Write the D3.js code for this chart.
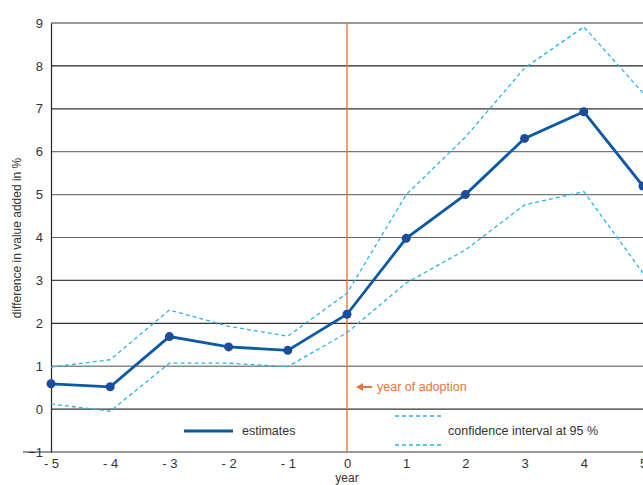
<!DOCTYPE html>
<html><head><meta charset="utf-8">
<script src="https://cdn.jsdelivr.net/npm/d3@7"></script>
<style>body{margin:0;background:#fff}svg{display:block}</style>
</head><body>
<script>
const years = [-5,-4,-3,-2,-1,0,1,2,3,4,5];
const estimates = [0.59,0.52,1.69,1.45,1.37,2.21,3.98,5.0,6.31,6.93,5.2];
const upperCI = [0.98,1.15,2.31,1.93,1.70,2.70,5.0,6.34,7.95,8.91,7.37];
const lowerCI = [0.12,-0.05,1.07,1.07,0.99,1.78,2.94,3.71,4.76,5.07,3.17];
const yTicks = [-1,0,1,2,3,4,5,6,7,8,9];
const gridColors = {0:"#333",1:"#888",2:"#333",3:"#444",4:"#666",5:"#777",6:"#777",7:"#333",8:"#222",9:"#333"};

const W=643,H=485;
const svg=d3.select("body").append("svg").attr("width",W).attr("height",H);
const x=d3.scaleLinear().domain([-5,5]).range([51,643]);
const y=d3.scaleLinear().domain([-1,9]).range([452,23]);
const font="'Liberation Sans Narrow','Arial Narrow','Liberation Sans',sans-serif";

// gridlines
svg.append("g").selectAll("line").data(yTicks.filter(d=>d>=0)).join("line")
  .attr("x1",51).attr("x2",W).attr("y1",d=>y(d)).attr("y2",d=>y(d))
  .attr("stroke",d=>gridColors[d]).attr("stroke-width",d=>d===1?1.6:1.2);

// y axis
const ya=svg.append("g").attr("transform","translate(51,0)")
  .call(d3.axisLeft(y).tickValues(yTicks).tickSize(0).tickPadding(8).tickFormat(d3.format("d")));
ya.select(".domain").attr("stroke","#222").attr("stroke-width",1.2);
ya.selectAll("text").attr("font-family",font).attr("font-size",13).attr("fill","#333");

// x axis
const xa=svg.append("g").attr("transform","translate(0,452)")
  .call(d3.axisBottom(x).tickValues(years).tickSize(0).tickPadding(7)
  .tickFormat(d=>d<0?"- "+(-d):String(d)));
xa.select(".domain").remove();
xa.selectAll("text").attr("font-family",font).attr("font-size",13).attr("fill","#333");
svg.append("line").attr("x1",23).attr("x2",W).attr("y1",452).attr("y2",452).attr("stroke","#333").attr("stroke-width",1.2);

// axis titles
svg.append("text").attr("x",347).attr("y",482).attr("text-anchor","middle")
  .attr("font-family",font).attr("font-size",12).attr("fill","#333").text("year");
svg.append("text").attr("transform","translate(21,238) rotate(-90)").attr("text-anchor","middle")
  .attr("font-family",font).attr("font-size",12).attr("fill","#333").text("difference in value added in %");

// adoption line
svg.append("line").attr("x1",x(0)).attr("x2",x(0)).attr("y1",23).attr("y2",452)
  .attr("stroke","#e8743b").attr("stroke-width",1.4);
svg.append("path").attr("d",`M${x(0)+9},387 l7,-4 v3 h9 v2 h-9 v3 z`).attr("fill","#e8743b");
svg.append("text").attr("x",x(0)+30).attr("y",391).attr("font-family",font).attr("font-size",12.5)
  .attr("fill","#e8743b").text("year of adoption");

const line=d3.line().x((d,i)=>x(years[i])).y(d=>y(d));
[upperCI,lowerCI].forEach(s=>{
  svg.append("path").datum(s).attr("d",line).attr("fill","none")
    .attr("stroke","#2ab4e8").attr("stroke-width",1.3).attr("stroke-dasharray","4,3");
});
svg.append("path").datum(estimates).attr("d",line).attr("fill","none")
  .attr("stroke","#0c5aa6").attr("stroke-width",2.8);
svg.append("g").selectAll("circle").data(estimates).join("circle")
  .attr("cx",(d,i)=>x(years[i])).attr("cy",d=>y(d)).attr("r",4.5).attr("fill","#1b4c9e");

// legend
svg.append("line").attr("x1",184).attr("x2",233).attr("y1",431).attr("y2",431)
  .attr("stroke","#0c5aa6").attr("stroke-width",2.8);
svg.append("text").attr("x",242).attr("y",435).attr("font-family",font).attr("font-size",12.5)
  .attr("fill","#333").text("estimates");
[416,445].forEach(yy=>svg.append("line").attr("x1",395).attr("x2",444).attr("y1",yy).attr("y2",yy)
  .attr("stroke","#2ab4e8").attr("stroke-width",1.3).attr("stroke-dasharray","4,3"));
svg.append("text").attr("x",448).attr("y",435).attr("font-family",font).attr("font-size",12.5)
  .attr("fill","#333").text("confidence interval at 95 %");
</script>
</body></html>
